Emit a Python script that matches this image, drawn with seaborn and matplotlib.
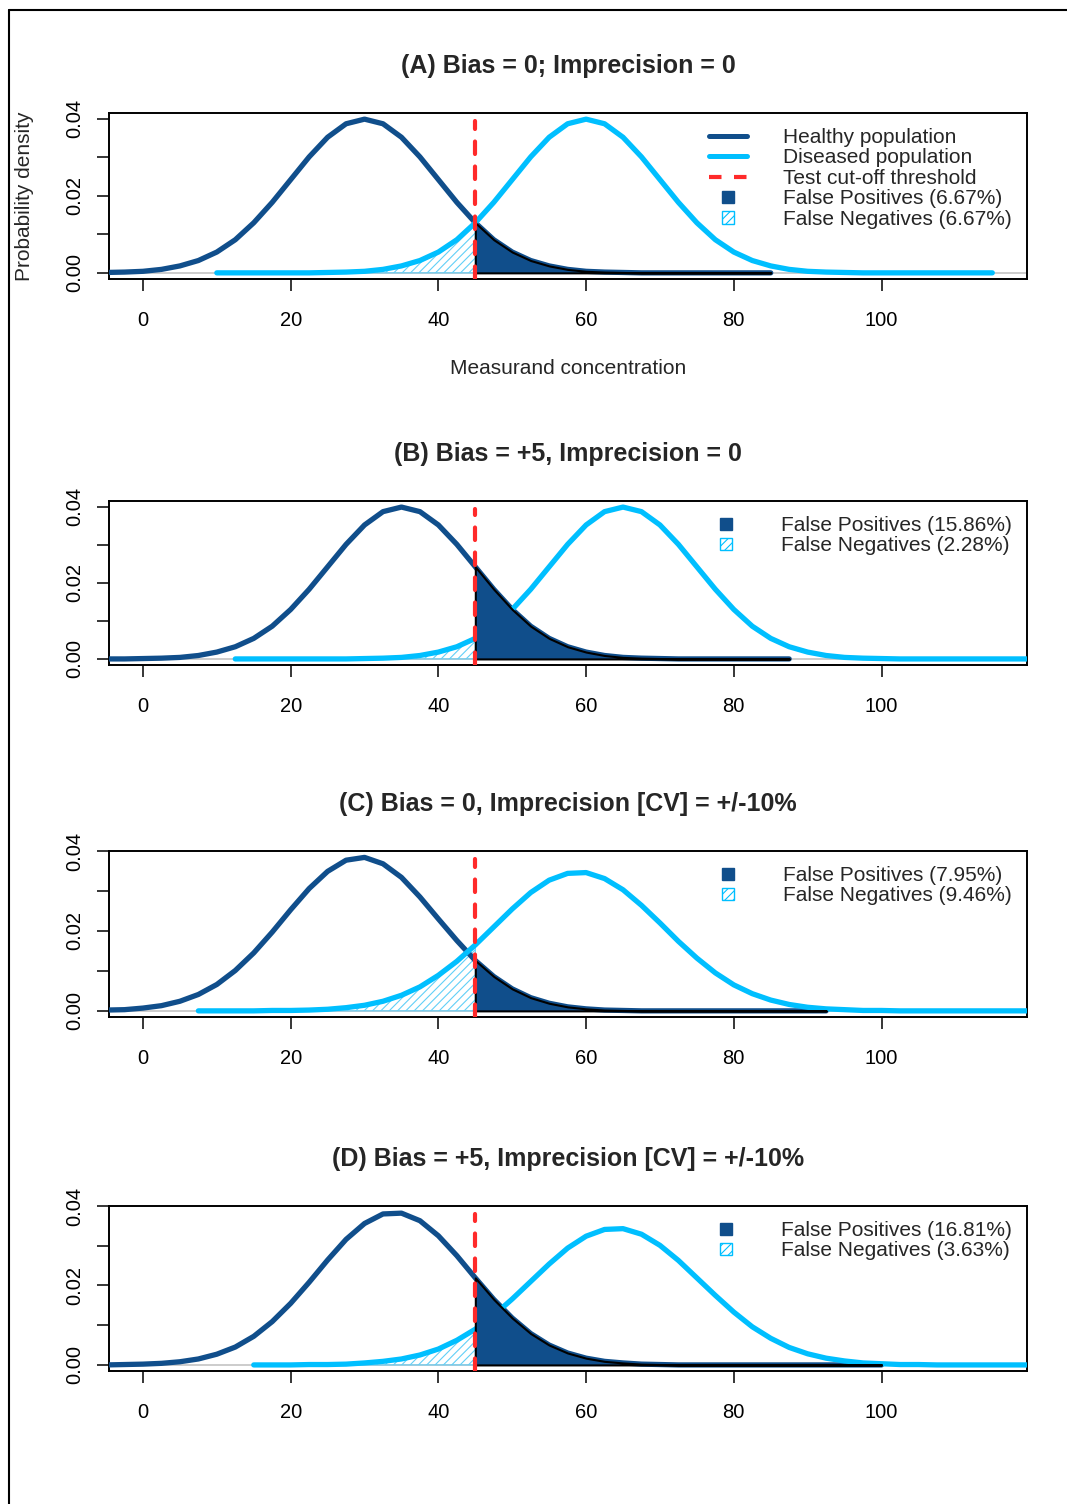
import numpy as np
import matplotlib
matplotlib.use("Agg")
import matplotlib.pyplot as plt
import matplotlib.patches as mpatches
from matplotlib.lines import Line2D
from matplotlib.legend_handler import HandlerPatch
import seaborn as sns

nan = float('nan')

# measurand concentration grid (x) shared by all curves
conc = [-5, -2.5, 0, 2.5, 5, 7.5, 10, 12.5, 15, 17.5,
        20, 22.5, 25, 27.5, 30, 32.5, 35, 37.5, 40, 42.5,
        45, 47.5, 50, 52.5, 55, 57.5, 60, 62.5, 65, 67.5,
        70, 72.5, 75, 77.5, 80, 82.5, 85, 87.5, 90, 92.5,
        95, 97.5, 100, 102.5, 105, 107.5, 110, 112.5, 115, 117.5, 120]

cutoff = 45

# (A) bias 0, imprecision 0
healthy_a = [0.0001, 0.0002, 0.0004, 0.0009, 0.0018, 0.0032, 0.0054, 0.0086, 0.0130, 0.0183,
             0.0242, 0.0301, 0.0352, 0.0387, 0.0399, 0.0387, 0.0352, 0.0301, 0.0242, 0.0183,
             0.0130, 0.0086, 0.0054, 0.0032, 0.0018, 0.0009, 0.0004, 0.0002, 0.0001, 0,
             0, 0, 0, 0, 0, 0, 0, nan, nan, nan,
             nan, nan, nan, nan, nan, nan, nan, nan, nan, nan, nan]
diseased_a = [nan, nan, nan, nan, nan, nan, 0, 0, 0, 0,
              0, 0, 0.0001, 0.0002, 0.0004, 0.0009, 0.0018, 0.0032, 0.0054, 0.0086,
              0.0130, 0.0183, 0.0242, 0.0301, 0.0352, 0.0387, 0.0399, 0.0387, 0.0352, 0.0301,
              0.0242, 0.0183, 0.0130, 0.0086, 0.0054, 0.0032, 0.0018, 0.0009, 0.0004, 0.0002,
              0.0001, 0, 0, 0, 0, 0, 0, 0, 0, nan, nan]

# (B) bias +5, imprecision 0
healthy_b = [0, 0, 0.0001, 0.0002, 0.0004, 0.0009, 0.0018, 0.0032, 0.0054, 0.0086,
             0.0130, 0.0183, 0.0242, 0.0301, 0.0352, 0.0387, 0.0399, 0.0387, 0.0352, 0.0301,
             0.0242, 0.0183, 0.0130, 0.0086, 0.0054, 0.0032, 0.0018, 0.0009, 0.0004, 0.0002,
             0.0001, 0, 0, 0, 0, 0, 0, 0, nan, nan,
             nan, nan, nan, nan, nan, nan, nan, nan, nan, nan, nan]
diseased_b = [nan, nan, nan, nan, nan, nan, nan, 0, 0, 0,
              0, 0, 0, 0, 0.0001, 0.0002, 0.0004, 0.0009, 0.0018, 0.0032,
              0.0054, 0.0086, 0.0130, 0.0183, 0.0242, 0.0301, 0.0352, 0.0387, 0.0399, 0.0387,
              0.0352, 0.0301, 0.0242, 0.0183, 0.0130, 0.0086, 0.0054, 0.0032, 0.0018, 0.0009,
              0.0004, 0.0002, 0.0001, 0, 0, 0, 0, 0, 0, 0, 0]

# (C) bias 0, CV 10%
healthy_c = [0.0002, 0.0003, 0.0007, 0.0013, 0.0024, 0.0041, 0.0066, 0.0101, 0.0145, 0.0197,
             0.0253, 0.0306, 0.0349, 0.0377, 0.0384, 0.0368, 0.0334, 0.0285, 0.0230, 0.0176,
             0.0126, 0.0086, 0.0055, 0.0033, 0.0019, 0.0010, 0.0005, 0.0002, 0.0001, 0,
             0, 0, 0, 0, 0, 0, 0, 0, 0, 0,
             nan, nan, nan, nan, nan, nan, nan, nan, nan, nan, nan]
diseased_c = [nan, nan, nan, nan, nan, 0, 0, 0, 0, 0.0001,
              0.0001, 0.0002, 0.0004, 0.0008, 0.0014, 0.0024, 0.0039, 0.0060, 0.0089, 0.0124,
              0.0165, 0.0210, 0.0255, 0.0296, 0.0327, 0.0344, 0.0346, 0.0331, 0.0303, 0.0264,
              0.0220, 0.0174, 0.0132, 0.0095, 0.0065, 0.0043, 0.0027, 0.0016, 0.0009, 0.0005,
              0.0003, 0.0001, 0.0001, 0, 0, 0, 0, 0, 0, 0, 0]

# (D) bias +5, CV 10%
healthy_d = [0, 0.0001, 0.0002, 0.0004, 0.0008, 0.0015, 0.0027, 0.0045, 0.0072, 0.0109,
             0.0155, 0.0208, 0.0264, 0.0316, 0.0356, 0.0380, 0.0382, 0.0363, 0.0325, 0.0275,
             0.0219, 0.0165, 0.0118, 0.0079, 0.0050, 0.0030, 0.0017, 0.0009, 0.0005, 0.0002,
             0.0001, 0, 0, 0, 0, 0, 0, 0, 0, 0,
             0, 0, 0, nan, nan, nan, nan, nan, nan, nan, nan]
diseased_d = [nan, nan, nan, nan, nan, nan, nan, nan, 0, 0,
              0, 0.0001, 0.0001, 0.0002, 0.0005, 0.0009, 0.0015, 0.0025, 0.0040, 0.0062,
              0.0090, 0.0125, 0.0166, 0.0210, 0.0254, 0.0294, 0.0324, 0.0341, 0.0343, 0.0329,
              0.0301, 0.0263, 0.0219, 0.0175, 0.0133, 0.0096, 0.0067, 0.0044, 0.0028, 0.0017,
              0.0010, 0.0005, 0.0003, 0.0001, 0.0001, 0, 0, 0, 0, 0, 0]

titles = ["(A) Bias = 0; Imprecision = 0",
          "(B) Bias = +5, Imprecision = 0",
          "(C) Bias = 0, Imprecision [CV] = +/-10%",
          "(D) Bias = +5, Imprecision [CV] = +/-10%"]
fp_pct = ["6.67%", "15.86%", "7.95%", "16.81%"]
fn_pct = ["6.67%", "2.28%", "9.46%", "3.63%"]
healthy_all = [healthy_a, healthy_b, healthy_c, healthy_d]
diseased_all = [diseased_a, diseased_b, diseased_c, diseased_d]

dark = "#104E8B"
sky = "#00BFFF"
hatch_col = "#62CFF7"
red = "#FF2A2A"

sns.set_style("ticks")
plt.rcParams['font.family'] = ['Liberation Sans', 'DejaVu Sans']
plt.rcParams['hatch.linewidth'] = 0.8

W, H = 1067, 1504
fig = plt.figure(figsize=(W / 100, H / 100), dpi=100)

# panel boxes in pixels (top, bottom)
boxes = [(113, 279), (501, 665), (851, 1017), (1206, 1371)]
left_px, right_px = 109, 1027


def square(legend, orig_handle, xdescent, ydescent, width, height, fontsize):
    s = height * 0.85
    return mpatches.Rectangle((width / 2 - s / 2 - xdescent, height / 2 - s / 2 - ydescent), s, s)


x = np.array(conc, dtype=float)
for i in range(4):
    top, bot = boxes[i]
    ax = fig.add_axes([left_px / W, 1 - bot / H, (right_px - left_px) / W, (bot - top) / H])
    h = np.array(healthy_all[i], dtype=float)
    d = np.array(diseased_all[i], dtype=float)

    ax.axhline(0, color="#c8c8c8", lw=1.3, zorder=1)
    sns.lineplot(x=x, y=h, ax=ax, color=dark, lw=3.8, zorder=3)
    sns.lineplot(x=x, y=d, ax=ax, color=sky, lw=3.8, zorder=3)

    # false negatives: diseased below cutoff
    m = (x <= cutoff) & ~np.isnan(d)
    ax.fill_between(x[m], d[m], 0, facecolor="none", edgecolor=hatch_col,
                    hatch="////", lw=0.8, zorder=2)
    # false positives: healthy above cutoff
    m = (x >= cutoff) & ~np.isnan(h)
    ax.fill_between(x[m], h[m], 0, facecolor=dark, edgecolor="black", lw=1.5, zorder=4)

    ax.axvline(cutoff, ymin=0, ymax=0.95, color=red, lw=3, ls=(0, (3, 3)),
               dash_capstyle="round", zorder=5)

    ymax = np.nanmax(np.concatenate([h, d]))
    ax.set_ylim(-0.04 * ymax, 1.04 * ymax)
    ax.set_xlim(-4.6, 119.7)
    ax.set_xticks([0, 20, 40, 60, 80, 100])
    ax.set_yticks([0, 0.01, 0.02, 0.03, 0.04])
    ax.set_yticklabels(["0.00", "", "0.02", "", "0.04"], rotation=90, va="center")
    ax.tick_params(axis="x", length=8.6, width=1.1, pad=14.5, labelsize=14.5, colors="black")
    ax.tick_params(axis="y", length=8.6, width=1.1, pad=9, labelsize=14.5, colors="black")
    ax.set_xlabel("")
    ax.set_ylabel("")
    for s in ax.spines.values():
        s.set_visible(True)
        s.set_color("black")
        s.set_linewidth(1.4)

    hpx = bot - top
    ax.text(0.5, 1 + 47 / hpx, titles[i], transform=ax.transAxes, ha="center",
            va="center", fontsize=18, fontweight="bold")

    fp_patch = mpatches.Patch(facecolor=dark, edgecolor=dark)
    fn_patch = mpatches.Patch(facecolor="white", edgecolor=sky, hatch="////", lw=1)
    handles = [fp_patch, fn_patch]
    labels = ["False Positives (%s)" % fp_pct[i], "False Negatives (%s)" % fn_pct[i]]
    if i == 0:
        handles = [Line2D([], [], color=dark, lw=3.6),
                   Line2D([], [], color=sky, lw=3.6),
                   Line2D([], [], color=red, lw=3, ls=(0, (3, 3)))] + handles
        labels = ["Healthy population", "Diseased population",
                  "Test cut-off threshold"] + labels
        ax.text(0.5, -89 / hpx, "Measurand concentration", transform=ax.transAxes,
                ha="center", va="center", fontsize=15)
        ax.text(-(left_px - 25) / (right_px - left_px), 0.5, "Probability density",
                transform=ax.transAxes, ha="center", va="center", rotation=90, fontsize=15)
    ax.legend(handles, labels, loc="upper right", bbox_to_anchor=(1, 1), borderaxespad=0,
              borderpad=0.72, frameon=False, fontsize=15, handlelength=1.8,
              handletextpad=1.75, labelspacing=0.07,
              handler_map={mpatches.Patch: HandlerPatch(patch_func=square)})

# outer frame (top and left edges)
fig.add_artist(Line2D([9 / W, 1], [1 - 10 / H, 1 - 10 / H], transform=fig.transFigure,
                      color="black", lw=1.5))
fig.add_artist(Line2D([9 / W, 9 / W], [0, 1 - 10 / H], transform=fig.transFigure,
                      color="black", lw=1.5))

fig.savefig("out.png", dpi=100)
